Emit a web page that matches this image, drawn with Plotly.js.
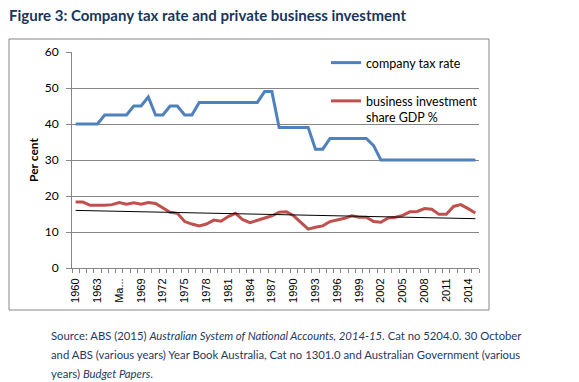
<!DOCTYPE html>
<html>
<head>
<meta charset="utf-8">
<script src="https://cdn.plot.ly/plotly-3.0.1.min.js"></script>
<style>html,body{margin:0;padding:0;background:#fff;}#chart{width:579px;height:382px;}</style>
</head>
<body>
<div id="chart"></div>
<script>
// ---- data ----
const years = [1960,1961,1962,1963,1964,1965,1966,1967,1968,1969,
  1970,1971,1972,1973,1974,1975,1976,1977,1978,1979,
  1980,1981,1982,1983,1984,1985,1986,1987,1988,1989,
  1990,1991,1992,1993,1994,1995,1996,1997,1998,1999,
  2000,2001,2002,2003,2004,2005,2006,2007,2008,2009,
  2010,2011,2012,2013,2014,2015];
const companyTaxRate = [40,40,40,40,42.5,42.5,42.5,42.5,45,45,
  47.5,42.5,42.5,45,45,42.5,42.5,46,46,46,
  46,46,46,46,46,46,49,49,39,39,
  39,39,39,33,33,36,36,36,36,36,
  36,34,30,30,30,30,30,30,30,30,
  30,30,30,30,30,30];
const businessInvestment = [18.3,18.3,17.4,17.3,17.4,17.6,18.2,17.7,18.1,17.7,
  18.2,17.9,16.8,15.5,15.2,12.9,12.2,11.7,12.2,13.3,
  13.0,14.3,15.2,13.4,12.6,13.3,14.0,14.5,15.5,15.6,
  14.5,12.7,10.8,11.3,11.7,12.9,13.3,13.8,14.5,14.1,
  14.1,12.9,12.7,13.9,14.1,14.6,15.6,15.7,16.5,16.3,
  14.9,14.9,17.1,17.6,16.5,15.3];
const trendYears = [1960, 2015];
const trendValues = [16.0, 13.7];
const tickYears = [1960,1963,1966,1969,1972,1975,1978,1981,1984,1987,1990,1993,1996,1999,2002,2005,2008,2011,2014];
const tickLabels = ['1960','1963','Ma...','1969','1972','1975','1978','1981','1984','1987','1990','1993','1996','1999','2002','2005','2008','2011','2014'];
const seriesNames = ['company tax rate', 'business investment<br>share GDP %'];

// ---- layout helpers (pixel -> paper) ----
const W = 579, H = 382;
const M = {l: 72, r: 100, t: 52, b: 114};
const PW = W - M.l - M.r, PH = H - M.t - M.b;
const px = x => (x - M.l) / PW;
const py = y => (H - M.b - y) / PH;

const FONT = 'Lato, "Open Sans", sans-serif';
const grey = '#868686';

const traces = [
  {x: years, y: companyTaxRate, type: 'scatter', mode: 'lines', name: seriesNames[0],
   line: {color: '#4F81BD', width: 3}, legendgroup: 'a'},
  {x: years, y: businessInvestment, type: 'scatter', mode: 'lines', name: seriesNames[1],
   line: {color: '#C0504D', width: 3}, legendgroup: 'b'},
  {x: trendYears, y: trendValues, type: 'scatter', mode: 'lines', showlegend: false,
   line: {color: '#000000', width: 1}, hoverinfo: 'skip'}
];

const layout = {
  width: W, height: H,
  margin: M,
  paper_bgcolor: '#ffffff', plot_bgcolor: '#ffffff',
  font: {family: FONT, color: '#000000'},
  title: {
    text: '<b>Figure 3: Company tax rate and private business investment</b>',
    xref: 'container', yref: 'container', x: 9 / W, xanchor: 'left',
    y: 1 - 16 / H, yanchor: 'middle',
    font: {family: FONT, size: 15, color: '#17365D'}
  },
  xaxis: {
    type: 'linear', range: [1959.5, 2015.5],
    tickmode: 'array', tickvals: tickYears, ticktext: tickLabels,
    tickangle: -90, ticks: '', ticklabelstandoff: 5,
    tickfont: {family: '"Liberation Sans", Arial, sans-serif', size: 11, color: '#000'},
    showline: true, linecolor: grey, linewidth: 1,
    showgrid: false, zeroline: false, fixedrange: true,
    minor: {ticks: 'outside', tick0: 1959.5, dtick: 1, ticklen: 4, tickcolor: grey, tickwidth: 1, showgrid: false}
  },
  yaxis: {
    range: [0, 60], dtick: 10, tick0: 0,
    showgrid: true, gridcolor: grey, gridwidth: 1,
    showline: true, linecolor: grey, linewidth: 1,
    ticks: 'outside', ticklen: 5, tickcolor: grey,
    ticklabelstandoff: 5,
    tickfont: {family: FONT, size: 12, color: '#000'},
    zeroline: false, fixedrange: true,
    title: {text: '<b>Per cent</b>', font: {family: FONT, size: 12, color: '#000'}}
  },
  showlegend: true,
  legend: {
    x: px(326), y: py(48), xanchor: 'left', yanchor: 'top',
    bgcolor: 'rgba(0,0,0,0)', borderwidth: 0,
    font: {family: FONT, size: 12.5, color: '#000'},
    tracegroupgap: 19, valign: 'top', itemwidth: 30,
    traceorder: 'grouped'
  },
  shapes: [
    {type: 'rect', xref: 'paper', yref: 'paper',
     x0: px(9), x1: px(489), y0: py(310), y1: py(39),
     line: {color: grey, width: 1}, fillcolor: 'rgba(0,0,0,0)', layer: 'below'}
  ],
  annotations: [
    {xref: 'paper', yref: 'paper', x: px(49), y: py(335), xanchor: 'left', yanchor: 'middle', showarrow: false,
     font: {family: FONT, size: 11.3, color: '#1F3A5F'},
     text: 'Source: ABS (2015) <i>Australian System of National Accounts, 2014-15</i>. Cat no 5204.0. 30 October'},
    {xref: 'paper', yref: 'paper', x: px(49), y: py(354), xanchor: 'left', yanchor: 'middle', showarrow: false,
     font: {family: FONT, size: 11.3, color: '#1F3A5F'},
     text: 'and ABS (various years) Year Book Australia, Cat no 1301.0 and Australian Government (various'},
    {xref: 'paper', yref: 'paper', x: px(49), y: py(373), xanchor: 'left', yanchor: 'middle', showarrow: false,
     font: {family: FONT, size: 11.3, color: '#1F3A5F'},
     text: 'years) <i>Budget Papers</i>.'}
  ]
};

Plotly.newPlot('chart', traces, layout, {staticPlot: true, displayModeBar: false});
</script>
</body>
</html>
